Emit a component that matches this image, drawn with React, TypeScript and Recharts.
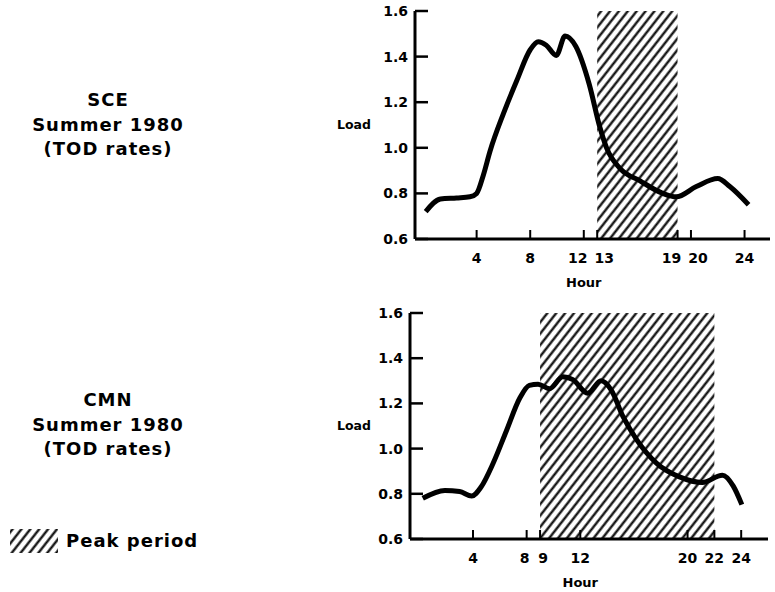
import React from "react";
import { LineChart, Line, XAxis, YAxis, ReferenceArea } from "recharts";

// shared load axis
const loadTicks = [0.6, 0.8, 1.0, 1.2, 1.4, 1.6];

// SCE summer 1980
const sceHourTicks = [4, 8, 12, 13, 19, 20, 24];
const scePeak = [13, 19];
const sceHours = [0.2, 1.3, 2.5, 3.5, 4.0, 4.5, 5.0, 6.0, 7.0, 8.0, 8.6, 9.2, 9.95, 10.6, 11.4, 12.4, 13.2, 13.7, 14.7, 16.2, 17.9, 18.9, 20.4, 22.0, 22.9, 24.3];
const sceLoad = [0.72, 0.775, 0.78, 0.785, 0.8, 0.88, 0.985, 1.15, 1.295, 1.43, 1.465, 1.45, 1.405, 1.49, 1.445, 1.28, 1.09, 1.0, 0.91, 0.855, 0.8, 0.785, 0.83, 0.865, 0.83, 0.75];

// CMN summer 1980
const cmnHourTicks = [4, 8, 9, 12, 20, 22, 24];
const cmnPeak = [9, 22];
const cmnHours = [0.25, 1.9, 3.0, 3.9, 4.6, 5.5, 6.5, 7.5, 8.2, 8.85, 9.7, 10.7, 11.45, 12.55, 13.55, 14.3, 15.2, 16.2, 17.7, 19.4, 21.1, 22.6, 23.4, 24.05];
const cmnLoad = [0.78, 0.815, 0.81, 0.79, 0.83, 0.935, 1.08, 1.225, 1.28, 1.285, 1.265, 1.318, 1.305, 1.245, 1.3, 1.26, 1.14, 1.04, 0.935, 0.875, 0.85, 0.882, 0.835, 0.752];

const toRows = (hours: number[], load: number[]) =>
  hours.map((h, i) => ({ hour: h, load: load[i] }));

const font = "'DejaVu Sans', sans-serif";

// push apart labels of neighbouring hours (12 13, 19 20, 8 9)
const labelShift = (v: number, ticks: number[]) => {
  const wide = String(v).length > 1 ? 6 : 2;
  if (ticks.includes(v + 1)) return -wide;
  if (ticks.includes(v - 1)) return String(v).length > 1 ? 7 : 3;
  return 0;
};

const HourTick = (props: any) => {
  const { x, y, payload, allTicks } = props;
  const dx = labelShift(payload.value, allTicks || []);
  return (
    <g>
      <line x1={x} y1={y} x2={x} y2={y - 9} stroke="#000" strokeWidth={2} />
      <text x={x + dx} y={y + 19} textAnchor="middle" dominantBaseline="central" fontSize={14} fontWeight={700} fill="#000" fontFamily={font}>
        {payload.value}
      </text>
      {payload.value === 12 && (
        <text x={x} y={y + 43} textAnchor="middle" dominantBaseline="central" fontSize={13} fontWeight={700} fill="#000" fontFamily={font}>
          Hour
        </text>
      )}
    </g>
  );
};

const LoadTick = (props: any) => {
  const { x, y, payload } = props;
  return (
    <g>
      <line x1={x} y1={y} x2={x + 13} y2={y} stroke="#000" strokeWidth={2.5} />
      <text x={x - 7} y={y} textAnchor="end" dominantBaseline="central" fontSize={14} fontWeight={700} fill="#000" fontFamily={font}>
        {Number(payload.value).toFixed(1)}
      </text>
    </g>
  );
};

type PanelProps = {
  rows: { hour: number; load: number }[];
  ticks: number[];
  peak: number[];
  top: number;
  plotTop: number;
  plotHeight: number;
  yWidth: number;
  right: number;
  domain: [number, number];
};

function LoadPanel({ rows, ticks, peak, top, plotTop, plotHeight, yWidth, right, domain }: PanelProps) {
  return (
    <div style={{ position: "absolute", left: 330, top }}>
      <LineChart
        width={445}
        height={plotTop + plotHeight + 50}
        data={rows}
        margin={{ top: plotTop, right, bottom: 0, left: 0 }}
      >
        <XAxis
          dataKey="hour"
          type="number"
          domain={domain}
          ticks={ticks}
          interval={0}
          allowDataOverflow
          height={50}
          tickSize={0}
          tickMargin={0}
          tickLine={false}
          tick={<HourTick allTicks={ticks} />}
          axisLine={{ stroke: "#000", strokeWidth: 3 }}
        />
        <YAxis
          type="number"
          domain={[0.6, 1.6]}
          ticks={loadTicks}
          interval={0}
          width={yWidth}
          tickSize={0}
          tickMargin={0}
          tickLine={false}
          tick={<LoadTick />}
          axisLine={{ stroke: "#000", strokeWidth: 3 }}
          label={{ value: "Load", position: "insideLeft", offset: 7, fill: "#000", fontSize: 12.5, fontWeight: 700 }}
        />
        <ReferenceArea
          x1={peak[0]}
          x2={peak[1]}
          y1={0.6}
          y2={1.6}
          fill="url(#hatch)"
          fillOpacity={1}
          stroke="none"
        />
        <Line
          type="monotone"
          dataKey="load"
          stroke="#000"
          strokeWidth={5}
          dot={false}
          activeDot={false}
          isAnimationActive={false}
        />
      </LineChart>
    </div>
  );
}

const titleStyle: React.CSSProperties = {
  position: "absolute",
  left: 0,
  width: 216,
  textAlign: "center",
  fontSize: 18,
  fontWeight: 700,
  lineHeight: "24.5px",
  letterSpacing: 1,
  color: "#000",
};

export default function App() {
  return (
    <div
      style={{
        position: "fixed",
        left: 0,
        top: 0,
        width: 775,
        height: 592,
        background: "#fff",
        fontFamily: font,
        overflow: "hidden",
      }}
    >
      <div style={{ ...titleStyle, top: 88 }}>
        SCE
        <br />
        Summer 1980
        <br />
        (TOD rates)
      </div>
      <div style={{ ...titleStyle, top: 388 }}>
        CMN
        <br />
        Summer 1980
        <br />
        (TOD rates)
      </div>

      {/* legend */}
      <svg width={50} height={26} style={{ position: "absolute", left: 9, top: 528 }}>
        <defs>
          <pattern id="hatch" patternUnits="userSpaceOnUse" width={7} height={10} patternTransform="rotate(38)">
            <line x1={3.5} y1={0} x2={3.5} y2={10} stroke="#000" strokeWidth={2.2} />
          </pattern>
        </defs>
        <rect x={1} y={1} width={48} height={24} fill="url(#hatch)" />
      </svg>
      <div style={{ position: "absolute", left: 66, top: 529, fontSize: 18, fontWeight: 700, lineHeight: "24px", letterSpacing: 1, color: "#000" }}>
        Peak period
      </div>

      <LoadPanel
        rows={toRows(sceHours, sceLoad)}
        ticks={sceHourTicks}
        peak={scePeak}
        top={0}
        plotTop={11}
        plotHeight={228}
        yWidth={85}
        right={5}
        domain={[-0.6, 25.9]}
      />
      <LoadPanel
        rows={toRows(cmnHours, cmnLoad)}
        ticks={cmnHourTicks}
        peak={cmnPeak}
        top={290}
        plotTop={23}
        plotHeight={226}
        yWidth={80}
        right={7}
        domain={[-0.7, 26]}
      />
    </div>
  );
}
